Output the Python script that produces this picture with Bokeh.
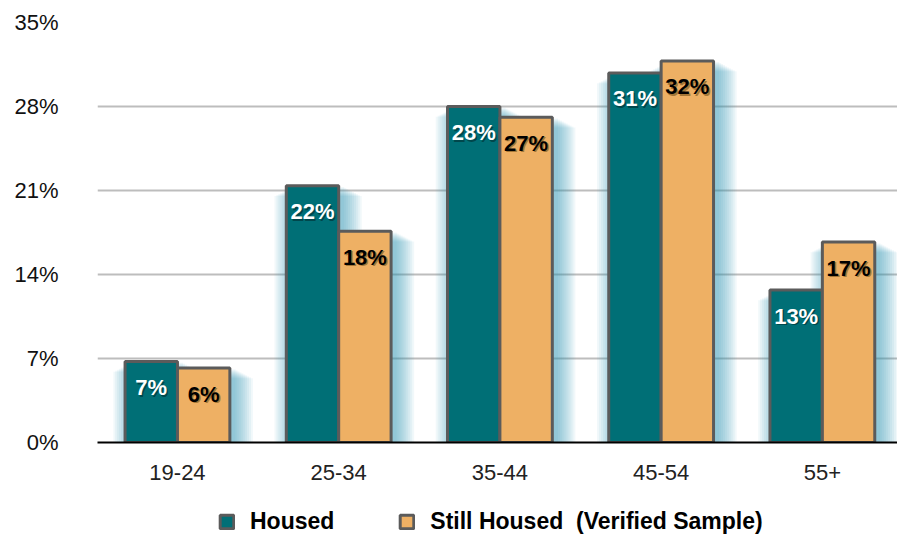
from bokeh.plotting import figure
from bokeh.layouts import column
from bokeh.models import Range1d, Legend, LegendItem, ColumnDataSource, FixedTicker
from bokeh.core.properties import value
from bokeh.embed import file_html
from bokeh.resources import INLINE

categories = ["19-24", "25-34", "35-44", "45-54", "55+"]
housed = [6.75, 21.4, 28.0, 30.8, 12.7]
still_housed = [6.2, 17.6, 27.1, 31.8, 16.7]
housed_labels = ["7%", "22%", "28%", "31%", "13%"]
still_labels = ["6%", "18%", "27%", "32%", "17%"]
y_ticks = [0, 7, 14, 21, 28, 35]
series_names = ["Housed", "Still Housed  (Verified Sample)"]

TEAL = "#006f76"
ORANGE = "#eeb064"
BORDER = "#5b5b5b"
FONT = "Liberation Sans"

p = figure(width=897, height=497, output_backend="svg", toolbar_location=None,
           x_range=Range1d(-0.496, 4.466), y_range=Range1d(0, 35),
           min_border_left=97, min_border_right=0, min_border_top=22, min_border_bottom=55)
p.outline_line_color = None
p.background_fill_color = "white"

idx = list(range(len(categories)))
bw = 0.325
hx = [i - bw / 2 for i in idx]
sx = [i + bw / 2 for i in idx]

# soft glow behind the bars
for k in range(10):
    a = 0.065
    grow = 0.012 * k
    for xs, vals in ((hx, housed), (sx, still_housed)):
        p.vbar(x=[x + 0.035 for x in xs], width=bw + 2 * grow,
               top=[v - 0.1 - grow * 7 for v in vals],
               bottom=-1.5 + grow * 4, fill_color="#2a9db0", fill_alpha=a, line_color=None)

p.vbar(x=hx, width=bw, top=housed, bottom=0, fill_color=TEAL, line_color=BORDER, line_width=3)
p.vbar(x=sx, width=bw, top=still_housed, bottom=0, fill_color=ORANGE, line_color=BORDER, line_width=3)

hsrc = ColumnDataSource(dict(x=hx, y=housed, t=housed_labels))
ssrc = ColumnDataSource(dict(x=sx, y=still_housed, t=still_labels))
for src, col, sh in ((hsrc, "white", "#001f22"), (ssrc, "black", "#5a3c08")):
    p.text(x="x", y="y", text="t", source=src, text_color=sh, text_alpha=0.5,
           text_font=value(FONT), text_font_style="bold", text_font_size="22px",
           text_align="center", text_baseline="middle", x_offset=1.5, y_offset=27.5)
    p.text(x="x", y="y", text="t", source=src, text_color=col,
           text_font=value(FONT), text_font_style="bold", text_font_size="22px",
           text_align="center", text_baseline="middle", y_offset=26)

p.ygrid.ticker = FixedTicker(ticks=y_ticks)
p.ygrid.grid_line_color = "#bdbdbd"
p.ygrid.grid_line_width = 2
p.xgrid.grid_line_color = None

p.yaxis.ticker = FixedTicker(ticks=y_ticks)
p.yaxis.major_label_overrides = {t: f"{t}%" for t in y_ticks}
p.yaxis.axis_line_color = None
p.yaxis.major_tick_line_color = None
p.yaxis.minor_tick_line_color = None
p.yaxis.major_label_text_font = FONT
p.yaxis.major_label_text_font_size = "22px"
p.yaxis.major_label_text_color = "#111111"
p.yaxis.major_label_standoff = 33

p.xaxis.ticker = FixedTicker(ticks=idx)
p.xaxis.major_label_overrides = {i: c for i, c in enumerate(categories)}
p.xaxis.axis_line_color = "black"
p.xaxis.axis_line_width = 2
p.xaxis.major_tick_line_color = None
p.xaxis.minor_tick_line_color = None
p.xaxis.major_label_text_font = FONT
p.xaxis.major_label_text_font_size = "22px"
p.xaxis.major_label_text_color = "#222222"
p.xaxis.major_label_standoff = 16

# legend strip below the chart (its renderers are hidden; only the legend shows)
lg = figure(width=897, height=38, output_backend="svg", toolbar_location=None,
            x_axis_type=None, y_axis_type=None, x_range=Range1d(-0.496, 4.466),
            y_range=Range1d(0, 35), min_border=0)
lg.outline_line_color = None
lg.xgrid.grid_line_color = None
lg.ygrid.grid_line_color = None
e1 = lg.vbar(x=hx, top=housed, width=bw, fill_color=TEAL, line_color=BORDER, line_width=3)
e2 = lg.vbar(x=sx, top=still_housed, width=bw, fill_color=ORANGE, line_color=BORDER, line_width=3)
e1.visible = False
e2.visible = False
legend = Legend(items=[LegendItem(label=series_names[0], renderers=[e1]),
                       LegendItem(label=series_names[1], renderers=[e2])],
                orientation="horizontal", location=(121, 0),
                label_text_font=FONT, label_text_font_style="bold", label_text_font_size="23px",
                label_text_color="black", glyph_width=17, glyph_height=17, spacing=64,
                label_standoff=15, border_line_color=None, background_fill_alpha=0,
                inactive_fill_alpha=0.0, padding=0, margin=0)
lg.add_layout(legend)

layout = column(p, lg, spacing=0)
open("out.html", "w").write(file_html(layout, INLINE))
